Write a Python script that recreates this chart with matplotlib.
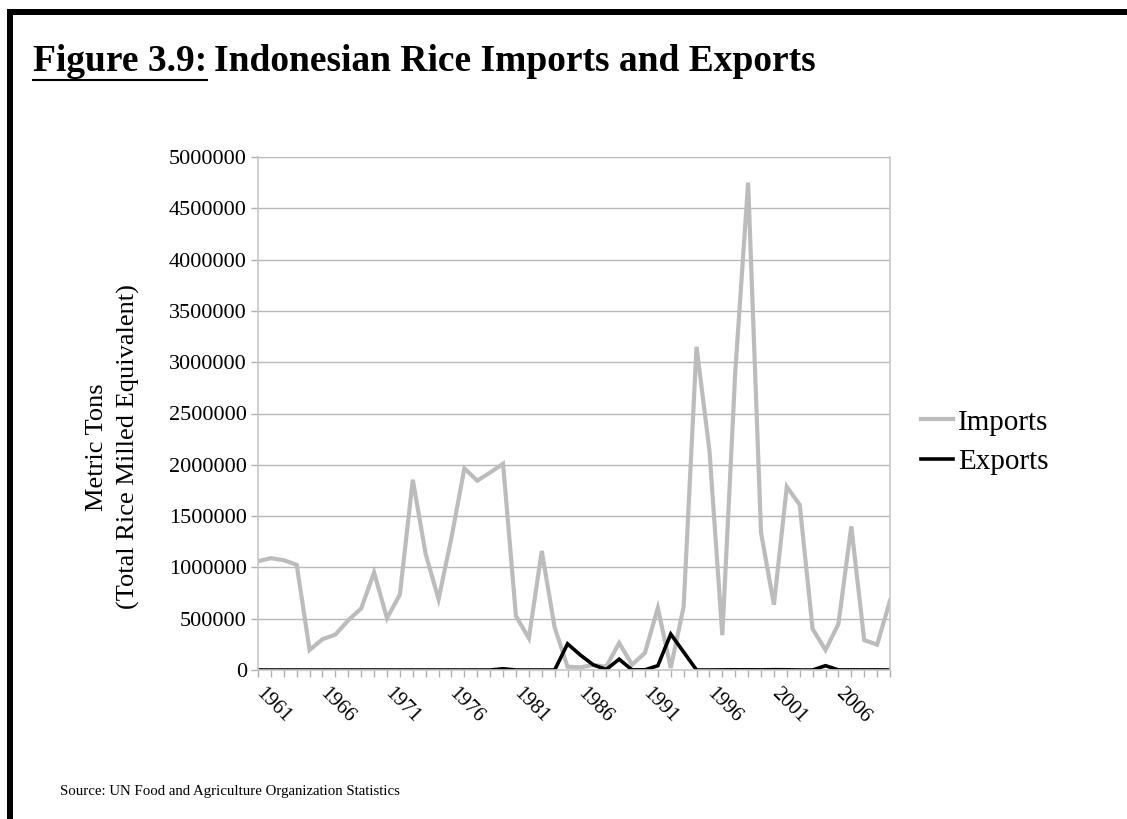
import matplotlib
matplotlib.use("Agg")
import matplotlib.pyplot as plt
from matplotlib.lines import Line2D
from matplotlib.patches import Rectangle
from matplotlib.ticker import MultipleLocator, FixedLocator

plt.rcParams['font.family'] = ['Liberation Serif', 'DejaVu Serif']

# Indonesian rice trade, metric tons (milled equivalent)
years = list(range(1961, 2011))
imports = [1060000, 1090000, 1070000, 1025000, 195000, 300000, 345000, 485000, 600000, 950000,
           505000, 735000, 1855000, 1130000, 690000, 1290000, 1965000, 1845000, 1925000, 2010000,
           525000, 310000, 1160000, 415000, 32000, 26000, 49000, 32000, 263000, 52000,
           166000, 605000, 20000, 617000, 3150000, 2140000, 340000, 2900000, 4750000, 1340000,
           636000, 1786000, 1610000, 400000, 195000, 448000, 1400000, 292000, 247000, 675000]
exports = [0, 0, 0, 0, 0, 0, 0, 0, 0, 0,
           0, 0, 0, 0, 0, 0, 0, 0, 0, 12000,
           0, 0, 0, 0, 255000, 145000, 50000, 5000, 105000, 1000,
           2000, 42000, 350000, 175000, 0, 0, 1000, 2000, 2000, 1000,
           3000, 2000, 0, 0, 42000, 1000, 1000, 1000, 1000, 0]
label_years = list(range(1961, 2010, 5))
yticks = list(range(0, 5000001, 500000))

W, H = 1127, 819
fig = plt.figure(figsize=(W / 100, H / 100), dpi=100)
ax = fig.add_axes([258 / W, 1 - 670 / H, (890 - 258) / W, (670 - 157) / H])

ax.plot(years, imports, color='#bcbcbc', lw=3.0, label='Imports', solid_joinstyle='miter')
ax.plot(years, exports, color='black', lw=2.6, label='Exports', solid_joinstyle='miter')

ax.set_xlim(1961, 2010)
ax.set_ylim(0, 5000000)
ax.yaxis.set_major_locator(FixedLocator(yticks))
ax.set_yticklabels([str(v) for v in yticks], fontsize=16)
ax.xaxis.set_major_locator(FixedLocator(label_years))
ax.xaxis.set_minor_locator(MultipleLocator(1))
ax.set_xticklabels([str(y) for y in label_years], fontsize=15, rotation=-45,
                   ha='left', va='center', rotation_mode='anchor')
ax.tick_params(axis='x', which='both', length=5, color='#b0b0b0', width=1, pad=10)
ax.tick_params(axis='y', length=5, color='#b0b0b0', width=1, pad=3)

ax.grid(axis='y', color='#b8b8b8', lw=1)
ax.set_axisbelow(True)
for side in ['left', 'right', 'bottom']:
    ax.spines[side].set_color('#c8c8c8')
    ax.spines[side].set_linewidth(1.2)
ax.spines['top'].set_visible(False)

fig.text(113 / W, 1 - 447 / H, 'Metric Tons\n(Total Rice Milled Equivalent)',
         rotation=90, ha='center', va='center', multialignment='center',
         fontsize=19, linespacing=1.45)

ax.legend(loc='center left', bbox_to_anchor=(1.031, 0.444), frameon=False,
          fontsize=21, handlelength=1.1, handletextpad=0.15, labelspacing=0.45,
          borderaxespad=0)

# page frame: thick rule along the top and the left edge
fig.add_artist(Rectangle((7 / W, 0), 6 / W, 1 - 9 / H, transform=fig.transFigure,
                         color='black', lw=0))
fig.add_artist(Rectangle((7 / W, 1 - 15 / H), 1 - 7 / W, 6 / H, transform=fig.transFigure,
                         color='black', lw=0))

# title, with the figure number underlined
t1 = fig.text(33 / W, 1 - 71 / H, 'Figure 3.9:', fontsize=27, fontweight='bold',
              va='baseline')
fig.canvas.draw()
bb = t1.get_window_extent()
fig.add_artist(Line2D([bb.x0 / W, bb.x1 / W], [(bb.y0 - 1) / H] * 2,
                      transform=fig.transFigure, color='black', lw=1.5))
fig.text(bb.x1 / W + 7 / W, 1 - 71 / H, 'Indonesian Rice Imports and Exports',
         fontsize=27, fontweight='bold', va='baseline')

fig.text(60 / W, 1 - 795 / H, 'Source: UN Food and Agriculture Organization Statistics',
         fontsize=10.7)

fig.savefig('out.png', dpi=100, facecolor='white')
